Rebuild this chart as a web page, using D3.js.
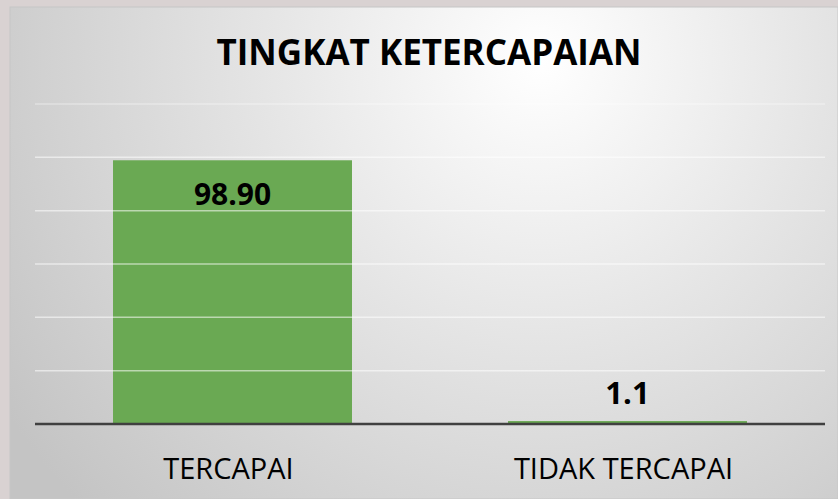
<!DOCTYPE html>
<html>
<head>
<meta charset="utf-8">
<script src="https://cdn.jsdelivr.net/npm/d3@7"></script>
<style>
  body { margin: 0; background: #d9d2d2; }
  svg { display: block; }
</style>
</head>
<body>
<svg></svg>
<script>
// Chart values
var categories = ["TERCAPAI", "TIDAK TERCAPAI"];
var values = [98.90, 1.1];
var valueLabels = ["98.90", "1.1"];
var yTicks = [0, 20, 40, 60, 80, 100, 120];
var title = "TINGKAT KETERCAPAIAN";

var width = 838;
var height = 499;
var svg = d3.select("svg")
  .attr("width", width)
  .attr("height", height);

// Plot area
var plot = {left: 35, right: 825, top: 104, bottom: 424};

// Background gradient of the chart frame
var defs = svg.append("defs");
var grad = defs.append("radialGradient")
  .attr("id", "bg")
  .attr("gradientUnits", "userSpaceOnUse")
  .attr("cx", 540).attr("cy", 60).attr("r", 640);
grad.append("stop").attr("offset", "0%").attr("stop-color", "#ffffff");
grad.append("stop").attr("offset", "45%").attr("stop-color", "#e4e4e4");
grad.append("stop").attr("offset", "100%").attr("stop-color", "#c4c4c4");

svg.append("rect")
  .attr("x", 10)
  .attr("y", 7)
  .attr("width", width - 10)
  .attr("height", height - 7)
  .attr("fill", "url(#bg)")
  .attr("stroke", "#c6c6c6")
  .attr("stroke-width", 1);

var x = d3.scaleBand()
  .domain(categories)
  .range([plot.left, plot.right])
  .paddingInner(0.395)
  .paddingOuter(0.1975);

var y = d3.scaleLinear()
  .domain([0, 120])
  .range([plot.bottom, plot.top]);

// Bars
svg.selectAll(".bar")
  .data(values)
  .enter()
  .append("rect")
    .attr("class", "bar")
    .attr("x", function(d, i) { return x(categories[i]); })
    .attr("y", function(d) { return y(d); })
    .attr("width", x.bandwidth())
    .attr("height", function(d) { return y(0) - y(d); })
    .attr("fill", "#6aa953");

// Gridlines
svg.selectAll(".grid")
  .data(yTicks.slice(1))
  .enter()
  .append("line")
    .attr("class", "grid")
    .attr("x1", plot.left)
    .attr("x2", plot.right)
    .attr("y1", function(d) { return y(d); })
    .attr("y2", function(d) { return y(d); })
    .attr("stroke", "#ffffff")
    .attr("stroke-opacity", function(d) { return d == 120 ? 0.35 : 0.55; })
    .attr("stroke-width", 1.5);

// Baseline
svg.append("line")
  .attr("x1", plot.left)
  .attr("x2", plot.right)
  .attr("y1", y(0))
  .attr("y2", y(0))
  .attr("stroke", "#404040")
  .attr("stroke-width", 2.5);

// Value labels
svg.selectAll(".value")
  .data(values)
  .enter()
  .append("text")
    .attr("class", "value")
    .attr("x", function(d, i) { return x(categories[i]) + x.bandwidth() / 2; })
    .attr("y", function(d, i) { return i == 0 ? y(d) + 45 : y(d) - 17; })
    .attr("text-anchor", "middle")
    .attr("font-family", "Open Sans")
    .attr("font-weight", "bold")
    .attr("font-size", function(d, i) { return i == 0 ? 30 : 31; })
    .attr("fill", "#000")
    .text(function(d, i) { return valueLabels[i]; });

// Category labels
svg.selectAll(".cat")
  .data(categories)
  .enter()
  .append("text")
    .attr("class", "cat")
    .attr("x", function(d) { return x(d) + x.bandwidth() / 2 - 4; })
    .attr("y", 479)
    .attr("text-anchor", "middle")
    .attr("font-family", "Open Sans")
    .attr("font-size", 29)
    .attr("fill", "#000")
    .text(function(d) { return d; });

// Title
svg.append("text")
  .attr("x", 429)
  .attr("y", 65)
  .attr("text-anchor", "middle")
  .attr("font-family", "Open Sans")
  .attr("font-weight", "bold")
  .attr("font-size", 35)
  .attr("fill", "#000")
  .text(title);
</script>
</body>
</html>
